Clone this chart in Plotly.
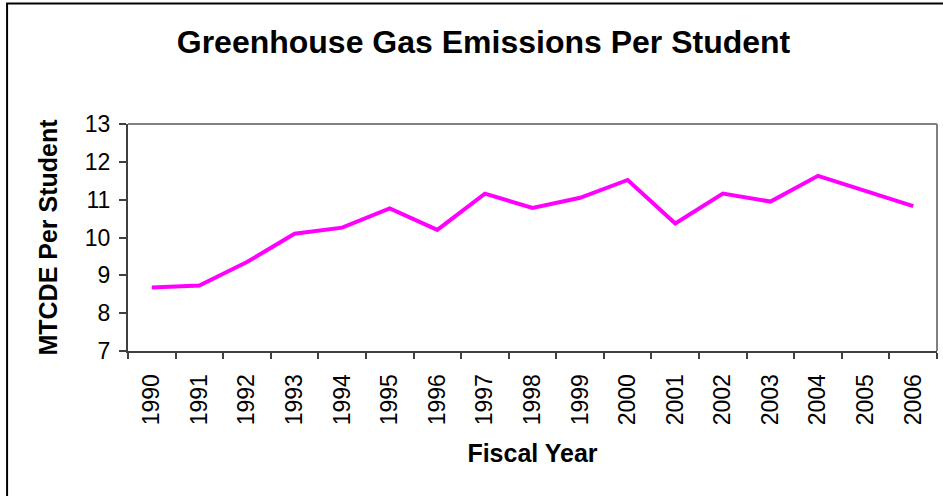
import plotly.graph_objects as go

years = ["1990", "1991", "1992", "1993", "1994", "1995", "1996", "1997", "1998",
         "1999", "2000", "2001", "2002", "2003", "2004", "2005", "2006"]
emissions = [8.68, 8.73, 9.35, 10.10, 10.26, 10.77, 10.20, 11.16, 10.78,
             11.05, 11.52, 10.37, 11.16, 10.95, 11.63, 11.22, 10.83]
y_ticks = [7, 8, 9, 10, 11, 12, 13]

W, H = 943, 496
L, R, T, B = 128, 5.5, 123.5, 145.3
pw, ph = W - L - R, H - T - B

FONT = "Liberation Sans, Arial, sans-serif"

fig = go.Figure()
fig.add_trace(go.Scatter(
    x=years, y=emissions, mode="lines",
    line=dict(color="#FF00FF", width=4),
    hoverinfo="x+y", showlegend=False,
))

def px2paper_x(px):
    return (px - L) / pw

def px2paper_y(py):
    return 1 - (py - T) / ph

shapes = [
    # outer frame (right and bottom edges lie outside the window)
    dict(type="rect", xref="paper", yref="paper",
         x0=px2paper_x(7), x1=px2paper_x(975),
         y0=px2paper_y(525), y1=px2paper_y(3),
         line=dict(color="#000000", width=2), fillcolor="rgba(0,0,0,0)", layer="below"),
    # top and right plot-area borders in gray
    dict(type="line", xref="paper", yref="paper", x0=0, x1=1, y0=1, y1=1,
         line=dict(color="#808080", width=2)),
    dict(type="line", xref="paper", yref="paper", x0=1, x1=1, y0=0, y1=1,
         line=dict(color="#808080", width=2)),
]

fig.update_layout(
    width=W, height=H,
    margin=dict(l=L, r=R, t=T, b=B, pad=0),
    paper_bgcolor="white", plot_bgcolor="white",
    font=dict(family=FONT, color="black"),
    title=dict(text="<b>Greenhouse Gas Emissions Per Student</b>",
               font=dict(size=32, family=FONT, color="black"),
               x=483.5 / W, xref="container", xanchor="center",
               y=1 - 42 / H, yref="container", yanchor="middle"),
    shapes=shapes,
    xaxis=dict(
        type="category", categoryorder="array", categoryarray=years,
        showgrid=False, zeroline=False,
        showline=True, linecolor="#404040", linewidth=2,
        ticks="outside", ticklen=6, tickcolor="#404040", tickwidth=1.5,
        tickson="boundaries",
        tickangle=-90, tickfont=dict(size=23, family=FONT, color="black"),
        ticklabelstandoff=12,
        title=dict(text="<b>Fiscal Year</b>", font=dict(size=25, family=FONT, color="black"),
                   standoff=20),
        range=[-0.5, len(years) - 0.5],
    ),
    yaxis=dict(
        range=[7, 13], tickvals=y_ticks, ticktext=[str(v) for v in y_ticks],
        showgrid=False, zeroline=False,
        showline=True, linecolor="#404040", linewidth=2,
        ticks="outside", ticklen=7, tickcolor="#404040", tickwidth=1.5,
        tickfont=dict(size=23, family=FONT, color="black"),
        ticklabelstandoff=4,
        title=dict(text="<b>MTCDE Per Student</b>", font=dict(size=25, family=FONT, color="black"),
                   standoff=20),
    ),
)

fig.write_html("out.html",
               config={"displayModeBar": False},
               post_script="document.body.style.margin='0px';document.body.style.overflow='hidden';")
